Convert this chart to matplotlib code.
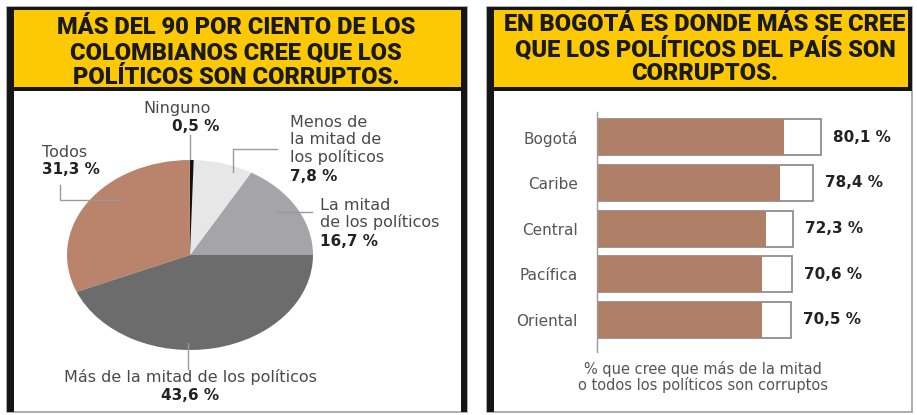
import matplotlib
matplotlib.use("Agg")
import matplotlib.pyplot as plt
from matplotlib.patches import Rectangle
from matplotlib import font_manager

# pie data (percent), counterclockwise from 3 o'clock
pie_labels = ["La mitad\nde los políticos", "Menos de\nla mitad de\nlos políticos",
              "Ninguno", "Todos", "Más de la mitad de los políticos"]
pie_values = [16.7, 7.8, 0.5, 31.3, 43.6]
pie_colors = ["#a4a4a9", "#e7e7e7", "#111111", "#b9836c", "#6c6c6c"]

# bar data
regions = ["Bogotá", "Caribe", "Central", "Pacífica", "Oriental"]
region_values = [80.1, 78.4, 72.3, 70.6, 70.5]
box_ends = [95.7, 92.3, 83.8, 83.3, 82.9]   # white box end

title_left = "MÁS DEL 90 POR CIENTO DE LOS\nCOLOMBIANOS CREE QUE LOS\nPOLÍTICOS SON CORRUPTOS."
title_right = "EN BOGOTÁ ES DONDE MÁS SE CREE\nQUE LOS POLÍTICOS DEL PAÍS SON\nCORRUPTOS."
caption = "% que cree que más de la mitad\no todos los políticos son corruptos"

W, H = 917, 415
YELLOW = "#fdc905"
BROWN = "#b07f68"
TXT = "#4a4a4a"


# heavy face for the headers
def title_props():
    names = {f.name for f in font_manager.fontManager.ttflist}
    if "Roboto" in names:
        return dict(family="Roboto", fontweight="black"), 17
    return dict(family="DejaVu Sans", fontweight="bold"), 13


tprops, tsize = title_props()

fig = plt.figure(figsize=(W / 100, H / 100), dpi=100)
fig.patch.set_facecolor("white")


def axes_px(x0, y0, x1, y1, **kw):
    return fig.add_axes([x0 / W, (H - y1) / H, (x1 - x0) / W, (y1 - y0) / H], **kw)


# frames and headers (pixel coords)
deco = axes_px(0, 0, W, H, zorder=0)
deco.set_xlim(0, W)
deco.set_ylim(H, 0)
deco.axis("off")

for x0, x1 in [(7, 467), (487, 912)]:
    deco.add_patch(Rectangle((x0, 7), x1 - x0, 405, fc="white", ec="#a0a0a0", lw=1.2))
    deco.add_patch(Rectangle((x0, 7), 7, 405, fc="#151515", ec="none"))
    deco.add_patch(Rectangle((x0, 7), x1 - x0, 84, fc="#151515", ec="none"))
    deco.add_patch(Rectangle((x0 + 7, 10), x1 - x0 - 11, 77, fc=YELLOW, ec="none"))
deco.add_patch(Rectangle((461, 7), 6, 405, fc="#151515", ec="none"))

deco.text(236, 52.5, title_left, ha="center", va="center", fontsize=tsize,
          color="#1a1a1a", linespacing=1.1, **tprops)
deco.text(705, 49, title_right, ha="center", va="center", fontsize=tsize,
          color="#1a1a1a", linespacing=1.03, **tprops)

# pie (elliptical, as in the print)
cx, cy, rx, ry = 190, 255, 123, 95
ax1 = axes_px(cx - rx, cy - ry, cx + rx, cy + ry, zorder=2)
ax1.pie(pie_values, colors=pie_colors, startangle=0, counterclock=True,
        wedgeprops=dict(linewidth=0))
ax1.set_aspect("auto")
ax1.set_xlim(-1, 1)
ax1.set_ylim(-1, 1)
ax1.axis("off")

# labels and leaders on top
over = axes_px(0, 0, W, H, zorder=3)
over.set_xlim(0, W)
over.set_ylim(H, 0)
over.axis("off")
over.patch.set_alpha(0)

LC = "#9a9a9a"
LS = 11.5   # label size
NS = 11     # number size
fmt = lambda v: f"{v:.1f} %".replace(".", ",")

# Ninguno
over.plot([190, 190], [135, 159], color=LC, lw=1)
over.text(177, 108, pie_labels[2], ha="center", va="center", fontsize=LS, color=TXT)
over.text(196, 126, fmt(pie_values[2]), ha="center", va="center", fontsize=NS,
          fontweight="bold", color="#222")
# Menos de la mitad
over.plot([233, 233, 277], [172, 149, 149], color=LC, lw=1)
over.text(290, 140, pie_labels[1], ha="left", va="center", fontsize=LS, color=TXT,
          linespacing=1.15)
over.text(290, 176, fmt(pie_values[1]), ha="left", va="center", fontsize=NS,
          fontweight="bold", color="#222")
# La mitad
over.plot([277, 312], [212, 212], color=LC, lw=1)
over.text(320, 214, pie_labels[0], ha="left", va="center", fontsize=LS, color=TXT,
          linespacing=1.15)
over.text(320, 241, fmt(pie_values[0]), ha="left", va="center", fontsize=NS,
          fontweight="bold", color="#222")
# Todos
over.plot([60, 60, 120], [185, 200, 200], color=LC, lw=1)
over.text(42, 152, pie_labels[3], ha="left", va="center", fontsize=LS, color=TXT)
over.text(42, 169, fmt(pie_values[3]), ha="left", va="center", fontsize=NS,
          fontweight="bold", color="#222")
# Más de la mitad
over.plot([188, 188], [343, 369], color=LC, lw=1)
over.text(190, 377, pie_labels[4], ha="center", va="center", fontsize=LS, color=TXT)
over.text(190, 395, fmt(pie_values[4]), ha="center", va="center", fontsize=NS,
          fontweight="bold", color="#222")

# bars
ax2 = axes_px(597, 112, 905, 352, zorder=2)
ypos = list(range(len(regions)))
ax2.barh(ypos, box_ends, height=0.79, color="white", edgecolor="#8f8f8f", linewidth=1.3)
ax2.barh(ypos, region_values, height=0.79, color=BROWN, linewidth=0)
for y, v, e in zip(ypos, region_values, box_ends):
    ax2.text(e + 5, y, fmt(v), ha="left", va="center", fontsize=11,
             fontweight="bold", color="#222")
ax2.set_xlim(0, 308 / 2.34)
ax2.set_ylim(4.7, -0.55)
ax2.set_yticks(ypos)
ax2.set_yticklabels(regions, fontsize=11, color="#555")
ax2.tick_params(axis="y", length=0, pad=14)
ax2.set_xticks([])
for s in ["top", "right", "bottom"]:
    ax2.spines[s].set_visible(False)
ax2.spines["left"].set_color("#9a9a9a")
ax2.spines["left"].set_linewidth(1)
ax2.patch.set_alpha(0)

over.text(703, 377, caption, ha="center", va="center", fontsize=10.5, color="#555",
          linespacing=1.0)

fig.savefig("out.png", dpi=100)
